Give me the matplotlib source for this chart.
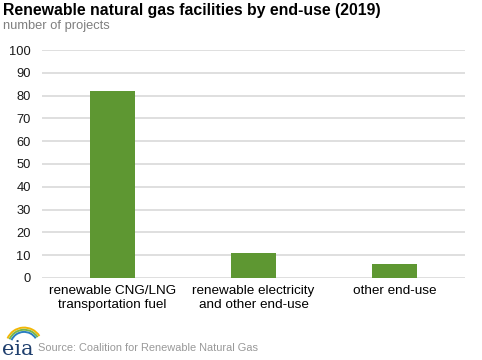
import numpy as np
import matplotlib
matplotlib.use("Agg")
from matplotlib import pyplot as plt
from matplotlib.patches import Arc

categories = ["renewable CNG/LNG\ntransportation fuel",
              "renewable electricity\nand other end-use",
              "other end-use"]
projects = [82, 11, 6]
yticks = list(range(0, 101, 10))

plt.rcParams['font.family'] = ['Liberation Sans', 'DejaVu Sans']

fig = plt.figure(figsize=(4.82, 3.6), dpi=100)
ax = fig.add_axes([0.087, 0.228, 0.878, 0.633])

x = np.arange(len(categories))
ax.bar(x, projects, width=0.32, color="#5e9732", zorder=3)
ax.set_xlim(-0.5, len(categories) - 0.5)
ax.set_ylim(0, 100)
ax.set_yticks(yticks)
ax.set_xticks(x)
ax.set_xticklabels(categories, fontsize=9.7, color="#000000", linespacing=1.2)
ax.tick_params(axis="y", labelsize=9.3, labelcolor="#1a1a1a", length=0, pad=8)
ax.tick_params(axis="x", length=0, pad=5)
ax.grid(axis="y", color="#d9d9d9", linewidth=1.2, zorder=0)
for s in ax.spines.values():
    s.set_visible(False)

fig.text(0.006, 0.972, "Renewable natural gas facilities by end-use (2019)",
         fontsize=11.4, fontweight="bold", va="center", ha="left")
fig.text(0.006, 0.927, "number of projects", fontsize=9.3, color="#7f7f7f",
         va="center", ha="left")
fig.text(0.079, 0.032, "Source: Coalition for Renewable Natural Gas",
         fontsize=7.9, color="#999999", va="center", ha="left")

# eia logo
fig.text(0.004, 0.030, "eia", fontsize=15, family="DejaVu Serif",
         color="#1f3f6e", va="center", ha="left")
for r, c in [(0.050, "#f2b705"), (0.044, "#7ab648"), (0.038, "#2a7fc1")]:
    fig.add_artist(Arc((0.050, 0.040), r * 1.5, r * 2.0, theta1=40, theta2=150,
                       transform=fig.transFigure, color=c, linewidth=1.4))

fig.savefig("out.png", dpi=100)
